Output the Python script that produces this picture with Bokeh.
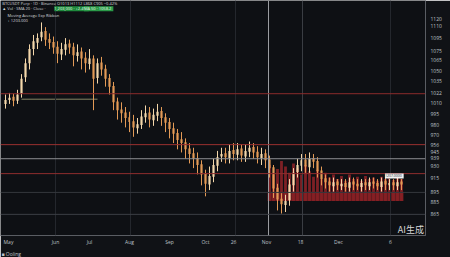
from bokeh.plotting import figure
from bokeh.models import ColumnDataSource, Span, Label, FixedTicker, Range1d, Title
from bokeh.embed import file_html
from bokeh.resources import INLINE

# ---------------- data ----------------
opens = [1008, 1013, 1017, 1012, 1021, 1042, 1060, 1078, 1086, 1093,
         1101, 1091, 1087, 1081, 1071, 1077, 1085, 1081, 1069, 1075,
         1067, 1059, 1066, 1041, 1061, 1053, 1041, 1031, 1011, 1001,
         997, 991, 986, 977, 981, 991, 997, 987, 993, 999,
         991, 985, 977, 971, 963, 959, 951, 945, 939, 931,
         919, 905, 915, 929, 941, 945, 939, 949, 943, 951,
         941, 947, 953, 947, 939, 945, 937, 927, 901, 887,
         879, 885, 904, 921, 929, 937, 927, 939, 935, 923,
         913, 909, 903, 909, 903, 907, 901, 909, 906, 902,
         908, 903, 909, 907, 902, 910, 904, 908, 903, 909]
closes = [1013, 1016, 1012, 1020, 1040, 1060, 1078, 1088, 1092, 1100,
          1090, 1086, 1080, 1072, 1078, 1084, 1080, 1070, 1074, 1066,
          1060, 1066, 1040, 1060, 1052, 1040, 1030, 1010, 1000, 996,
          990, 985, 978, 982, 992, 996, 988, 994, 998, 990,
          984, 976, 970, 962, 958, 950, 944, 938, 930, 918,
          906, 916, 930, 940, 944, 940, 948, 944, 950, 942,
          948, 952, 946, 940, 944, 936, 926, 900, 886, 880,
          884, 905, 920, 930, 936, 928, 938, 934, 922, 912,
          908, 904, 908, 904, 906, 902, 908, 905, 903, 907,
          904, 908, 906, 903, 909, 905, 907, 904, 908, 905]
highs = [1020, 1022, 1021, 1026, 1046, 1066, 1084, 1096, 1098, 1112,
         1106, 1098, 1094, 1088, 1086, 1092, 1090, 1086, 1084, 1080,
         1074, 1078, 1070, 1066, 1068, 1058, 1046, 1036, 1016, 1010,
         1004, 998, 994, 990, 1000, 1006, 1004, 1002, 1008, 1004,
         996, 990, 984, 976, 972, 964, 958, 952, 946, 936,
         924, 928, 938, 948, 952, 952, 956, 958, 958, 956,
         956, 960, 958, 954, 952, 950, 942, 930, 906, 894,
         892, 912, 926, 938, 944, 944, 946, 944, 940, 928,
         918, 914, 914, 912, 912, 912, 914, 914, 912, 912,
         912, 914, 914, 912, 914, 914, 912, 912, 914, 912]
lows = [1002, 1008, 1005, 1008, 1016, 1036, 1052, 1070, 1078, 1088,
        1082, 1078, 1072, 1060, 1064, 1070, 1072, 1056, 1062, 1052,
        1048, 1052, 1000, 1034, 1044, 1030, 1020, 1000, 988, 984,
        978, 972, 966, 970, 976, 984, 978, 980, 986, 980,
        972, 964, 958, 950, 946, 938, 932, 926, 918, 904,
        890, 898, 908, 922, 934, 932, 932, 936, 936, 934,
        934, 940, 938, 932, 930, 926, 914, 888, 872, 868,
        870, 878, 896, 914, 922, 920, 920, 926, 914, 904,
        900, 896, 896, 898, 898, 896, 896, 898, 898, 896,
        898, 898, 900, 898, 896, 898, 898, 898, 898, 898]
vol_start = 66
vol_top = [930, 918, 925, 935, 928, 920, 932, 926, 918, 930,
           922, 915, 924, 912, 920, 914, 918, 912, 916, 910,
           918, 912, 915, 910, 916, 912, 914, 910, 915, 912,
           916, 911, 914, 912]
vol_base = 884
vol_block = 896

x_ticks = [0.75, 12.5, 21, 31, 41, 50, 57, 65.25, 73.75, 83.25, 96.25]
x_labels = ["May", "Jun", "Jul", "Aug", "Sep", "Oct", "26", "Nov", "18", "Dec", "6"]
y_ticks = [1117, 1108, 1092, 1075, 1064, 1050, 1037, 1022, 1009, 995, 981,
           968, 956, 947, 939, 929, 914, 896, 883, 867]
y_labels = ["1120", "1110", "1095", "1075", "1065", "1050", "1035", "1022", "1010", "995",
            "980", "970", "956", "945", "939", "930", "915", "895", "885", "865"]
series_name = "Ooling"

# ---------------- figure ----------------
BG = "#0e1014"
p = figure(width=450, height=257, output_backend="svg", toolbar_location=None,
           x_range=Range1d(-1.25, 105), y_range=Range1d(840, 1140),
           y_axis_location="right", min_border_left=0, min_border_top=0,
           min_border_right=25, min_border_bottom=21)
p.background_fill_color = BG
p.border_fill_color = "#101216"
p.outline_line_color = None
p.grid.visible = False

p.xaxis.ticker = FixedTicker(ticks=x_ticks)
p.xaxis.major_label_overrides = {t: l for t, l in zip(x_ticks, x_labels)}
p.yaxis.ticker = FixedTicker(ticks=y_ticks)
p.yaxis.major_label_overrides = {t: l for t, l in zip(y_ticks, y_labels)}
for ax in (p.xaxis, p.yaxis):
    ax.major_tick_line_color = None
    ax.minor_tick_line_color = None
    ax.major_tick_out = 0
    ax.major_tick_in = 0
    ax.major_label_text_font_size = "5px"
    ax.major_label_text_color = "#bfc2c8"
    ax.major_label_text_font = "Open Sans"
    ax.axis_line_color = "#5a5d63"
p.xaxis.major_label_standoff = 3
p.yaxis.major_label_standoff = 5

# grid-like reference lines
for xv, col in [(12.5, "#24272d"), (31.25, "#24272d"), (57.5, "#24272d"),
                (65.75, "#9a9ca0"), (74.25, "#3a3d43"), (96.25, "#24272d")]:
    p.add_layout(Span(location=xv, dimension="height", line_color=col, line_width=1))
for yv, col in [(1021, "#8c2b2b"), (956, "#9a2f2f"), (938, "#8d8f93"),
                (919, "#8e2d2d"), (895, "#34373d"), (867, "#3c3f45")]:
    p.add_layout(Span(location=yv, dimension="width", line_color=col, line_width=1))
p.line(x=[4, 23], y=[1014, 1014], line_color="#a6a47a", line_width=1, line_alpha=0.8)

# volume bars
vx = list(range(vol_start, vol_start + len(vol_top)))
p.vbar(x=vx, top=vol_top, bottom=vol_base, width=0.7, fill_color="#a3262b",
       line_color=None, fill_alpha=0.75)
p.quad(left=vol_start - 0.5, right=vol_start + len(vol_top) - 0.5, bottom=vol_base,
       top=vol_block, fill_color="#8a1f24", line_color=None, fill_alpha=0.7)

# candles
idx = list(range(len(closes)))
up = dict(x=[], o=[], c=[], h=[], l=[])
dn = dict(x=[], o=[], c=[], h=[], l=[])
for i in idx:
    d = up if closes[i] >= opens[i] else dn
    d["x"].append(i); d["o"].append(opens[i]); d["c"].append(closes[i])
    d["h"].append(highs[i]); d["l"].append(lows[i])
for d, col in [(up, "#f4d7aa"), (dn, "#e39a56")]:
    src = ColumnDataSource(d)
    p.segment(x0="x", y0="h", x1="x", y1="l", source=src, line_color=col, line_width=1)
    p.vbar(x="x", top="o", bottom="c", width=0.55, source=src, fill_color=col, line_color=None)

# footer line below the axis ("■ Ooling")
p.add_layout(Title(text="\u25a0 " + series_name, align="left", text_font_size="5px",
                   text_color="#c0c3c8", text_font="Open Sans", text_font_style="normal",
                   standoff=2, offset=1), "below")

# texts
def lab(x, y, t, size="5px", color="#d6d8dc", bg=None, align="left", font="Open Sans"):
    p.add_layout(Label(x=x, y=y, text=t, text_font_size=size, text_color=color,
                       text_font=font, text_align=align, text_baseline="middle",
                       background_fill_color=bg, border_line_color=None, padding=0))

lab(-0.8, 1136.8, "BTCUSDT Perp \u00b7 1D \u00b7 Binance  O1013 H1112 L868 C905 \u22120.42%", size="4px")
lab(-0.8, 1129.5, "\u25b2 Vol \u00b7 SMA 20 \u00b7 Close \u00b7", size="4px")
lab(12.2, 1129.5, " 1,203,000 \u00b7 +2.4% ", size="4px", color="#e8ffe8", bg="#1e8a3c")
lab(19.6, 1129.5, " MA 50 \u00b7 1058.2 ", size="4px", color="#e8ffe8", bg="#2a9a48")
lab(0.5, 1121, "Moving Average Exp Ribbon", size="4px")
lab(0.5, 1115, "+ 1203.000", size="4px")

lab(97.2, 916, " 1207.0000 ", size="3.5px", color="#202226", bg="#f2f2f2", align="center")

# watermark, kept inside the plotting frame (bottom-right corner)
lab(104.6, 848, "AI\u751f\u6210", size="9px", color="#d8d8d8", align="right",
    font="Noto Sans CJK SC")

open("out.html", "w").write(file_html(p, INLINE))
